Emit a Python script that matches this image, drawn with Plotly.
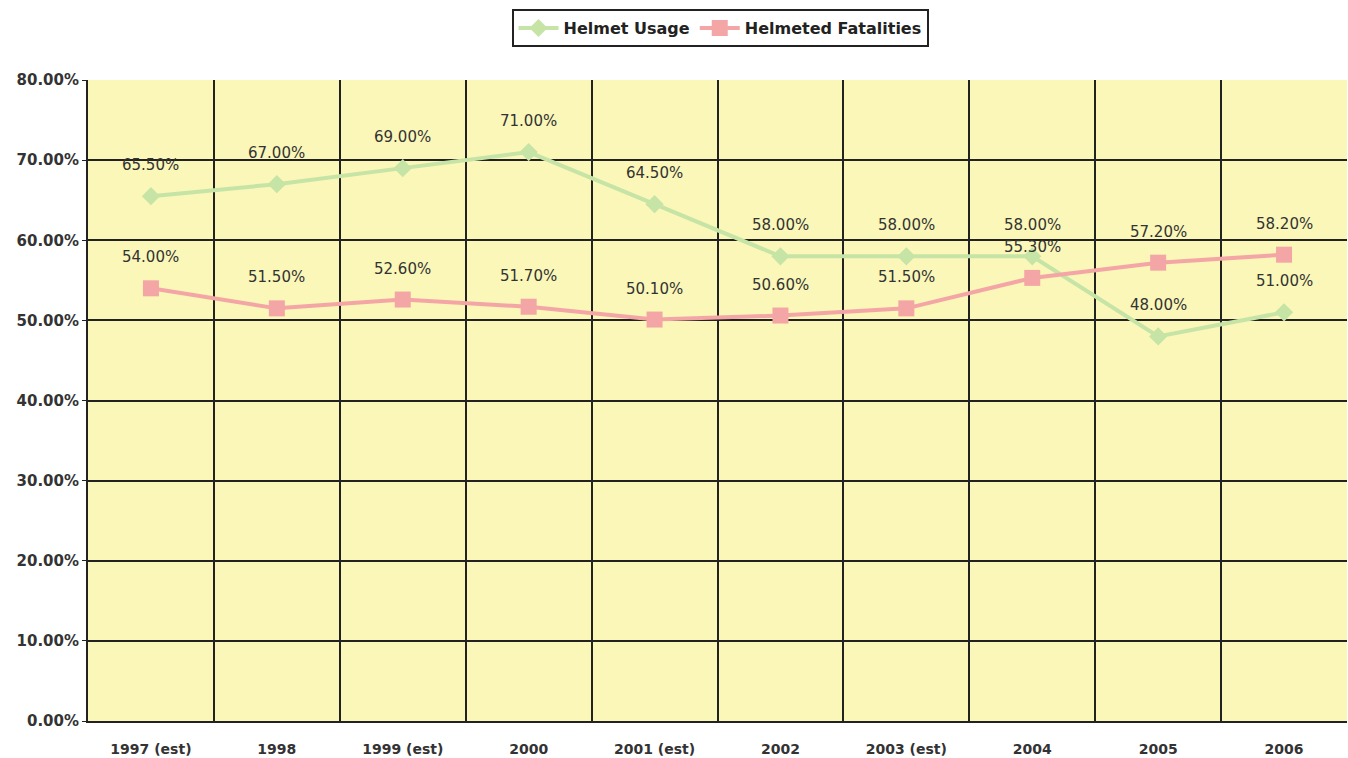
import plotly.graph_objects as go

categories = ["1997 (est)", "1998", "1999 (est)", "2000", "2001 (est)",
              "2002", "2003 (est)", "2004", "2005", "2006"]
helmet_usage = [0.655, 0.670, 0.690, 0.710, 0.645, 0.580, 0.580, 0.580, 0.480, 0.510]
helmeted_fatalities = [0.540, 0.515, 0.526, 0.517, 0.501, 0.506, 0.515, 0.553, 0.572, 0.582]
y_ticks = [0, 0.1, 0.2, 0.3, 0.4, 0.5, 0.6, 0.7, 0.8]

x = list(range(len(categories)))

green = "#C6E4A6"
pink = "#F4A6A6"
font_family = "DejaVu Sans, Verdana, sans-serif"

fig = go.Figure()
fig.add_trace(go.Scatter(
    x=x, y=helmet_usage, name="Helmet Usage", mode="lines+markers",
    line=dict(color=green, width=4),
    marker=dict(symbol="diamond", size=14, color=green),
))
fig.add_trace(go.Scatter(
    x=x, y=helmeted_fatalities, name="Helmeted Fatalities", mode="lines+markers",
    line=dict(color=pink, width=4),
    marker=dict(symbol="square", size=16, color=pink),
))

annotations = []
for series in (helmet_usage, helmeted_fatalities):
    for xi, v in zip(x, series):
        annotations.append(dict(
            x=xi, y=v, xref="x", yref="y", text=f"{v*100:.2f}%",
            showarrow=False, yshift=31,
            font=dict(family=font_family, size=15, color="#333333"),
        ))

fig.update_layout(
    width=1348, height=758,
    margin=dict(l=88, r=1, t=80, b=37),
    paper_bgcolor="white",
    plot_bgcolor="#FAF7B8",
    showlegend=True,
    legend=dict(
        orientation="h", x=0.502, xanchor="center", y=1.081, yanchor="middle",
        bordercolor="#222222", borderwidth=2, bgcolor="white",
        font=dict(family=font_family, size=16, color="#222222", weight="bold"),
        itemwidth=40, tracegroupgap=0,
    ),
    annotations=annotations,
    xaxis=dict(
        range=[-0.5, 9.5], tickmode="array", tickvals=x, ticktext=categories,
        showgrid=False, zeroline=False,
        tickfont=dict(family=font_family, size=14, color="#333333", weight="bold"),
        minor=dict(tickmode="array", tickvals=[i + 0.5 for i in range(-1, 10)],
                   showgrid=True, gridcolor="#222222", gridwidth=2),
        showline=True, linecolor="#222222", linewidth=2, mirror=False,
        ticks="", ticklen=0, ticklabelstandoff=14,
    ),
    yaxis=dict(
        range=[0, 0.8], tickmode="array", tickvals=y_ticks, tickformat=".2%",
        showgrid=True, gridcolor="#222222", gridwidth=2, zeroline=False,
        tickfont=dict(family=font_family, size=15, color="#333333", weight="bold"),
        showline=True, linecolor="#222222", linewidth=2,
        ticks="outside", ticklen=4, tickcolor="#222222",
    ),
)

fig.write_html("out.html", config={"displayModeBar": False},
               post_script="document.body.style.margin='0';document.body.style.overflow='hidden';")
